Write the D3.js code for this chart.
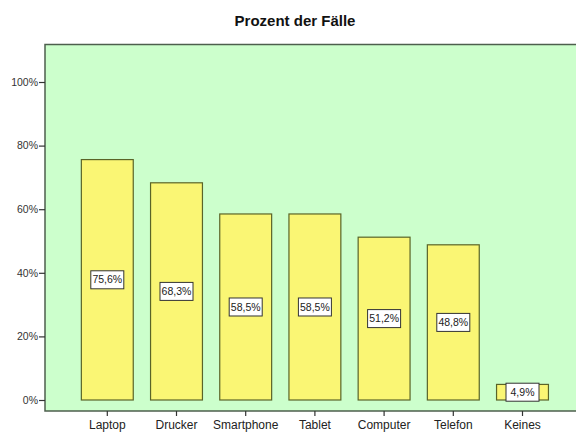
<!DOCTYPE html>
<html><head><meta charset="utf-8">
<script src="https://cdn.jsdelivr.net/npm/d3@7"></script>
<style>body{margin:0;background:#fff}svg{display:block}</style>
</head><body>
<script>
const categories = ["Laptop","Drucker","Smartphone","Tablet","Computer","Telefon","Keines"];
const values = [75.6, 68.3, 58.5, 58.5, 51.2, 48.8, 4.9];
const valueLabels = ["75,6%","68,3%","58,5%","58,5%","51,2%","48,8%","4,9%"];
const yTicks = [0, 20, 40, 60, 80, 100];
const title = "Prozent der Fälle";

const W = 576, H = 432;
const svg = d3.select("body").append("svg").attr("width", W).attr("height", H);

const plot = {left: 45, top: 44.5, right: 580, bottom: 411};
const y = d3.scaleLinear().domain([0, 100]).range([400, 82]);
const x = d3.scaleBand().domain(categories).range([72.7, 557.1]).paddingInner(0.25).paddingOuter(0.125);

svg.append("text").attr("x", 295).attr("y", 26).attr("text-anchor", "middle")
  .style("font-family", "Liberation Sans, Arial, sans-serif").style("font-weight", "bold")
  .style("font-size", "15px").attr("fill", "#111").text(title);

svg.append("rect").attr("x", plot.left).attr("y", plot.top)
  .attr("width", plot.right - plot.left).attr("height", plot.bottom - plot.top)
  .attr("fill", "#CCFFCC").attr("stroke", "#4d5f4d").attr("stroke-width", 1.5);

svg.selectAll("rect.bar").data(values).join("rect").attr("class", "bar")
  .attr("x", (d, i) => x(categories[i]))
  .attr("width", x.bandwidth())
  .attr("y", d => y(d))
  .attr("height", d => y(0) - y(d))
  .attr("fill", "#FAF674").attr("stroke", "#5a6428").attr("stroke-width", 1.2);

// value labels
const lg = svg.selectAll("g.lab").data(values).join("g").attr("class", "lab")
  .attr("transform", (d, i) => `translate(${x(categories[i]) + x.bandwidth()/2},${y(d/2)})`);
lg.append("rect").attr("x", -16.5).attr("y", -9).attr("width", 33).attr("height", 18)
  .attr("fill", "#fff").attr("stroke", "#333").attr("stroke-width", 1);
lg.append("text").attr("text-anchor", "middle").attr("dy", "0.35em")
  .style("font-family", "Liberation Sans, Arial, sans-serif").style("font-size", "10.5px")
  .attr("fill", "#222").text((d, i) => valueLabels[i]);

// y axis
const yAxis = d3.axisLeft(y).tickValues(yTicks).tickFormat(d => d + "%").tickSize(6).tickPadding(1);
const yg = svg.append("g").attr("transform", `translate(${plot.left},0)`).call(yAxis);
yg.select(".domain").remove();
yg.selectAll("line").attr("stroke", "#333").attr("stroke-width", 1.2);
yg.selectAll("text").style("font-family", "Liberation Sans, Arial, sans-serif").style("font-size", "10.5px").attr("fill", "#333");

// x axis
const xAxis = d3.axisBottom(x).tickSize(5).tickPadding(4);
const xg = svg.append("g").attr("transform", `translate(0,${plot.bottom})`).call(xAxis);
xg.select(".domain").remove();
xg.selectAll("line").attr("stroke", "#333").attr("stroke-width", 1.2);
xg.selectAll("text").style("font-family", "Liberation Sans, Arial, sans-serif").style("font-size", "12px").attr("fill", "#222");
</script>
</body></html>
